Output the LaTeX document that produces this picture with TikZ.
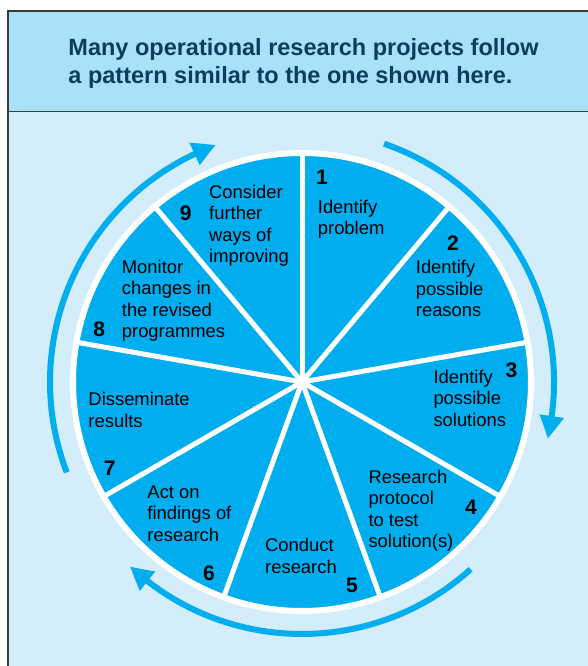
\documentclass[tikz,border=0pt]{standalone}
\usepackage{fontspec}
\setmainfont{Liberation Sans}
\usetikzlibrary{arrows.meta, bending}

\definecolor{wheelblue}{RGB}{0,174,239}
\definecolor{headblue}{RGB}{170,224,250}
\definecolor{paleblue}{RGB}{211,238,250}
\definecolor{headtext}{RGB}{10,62,92}
\definecolor{framegray}{RGB}{60,60,60}

\begin{document}
\begin{tikzpicture}
    [
    x = 1pt, y = 1pt,
    every node/.style = {inner sep=0pt, font=\fontsize{18.4}{21.5}\selectfont},
    stage/.style      = {anchor=base west, align=left},
    num/.style        = {font=\fontsize{21}{21}\selectfont\bfseries},
    spoke/.style      = {draw=white, line width=5pt},
    frameline/.style  = {draw=framegray, line width=1.5pt},
    loop/.style       = {draw=wheelblue, line width=6pt, -{Triangle[length=23pt, width=23pt, bend]}}
    ]
    \useasboundingbox[fill=white] (-302,-284) rectangle (286,382);

    % panel
    \fill[paleblue] (-294,-284) rectangle (286,270.5);
    \fill[headblue] (-294,270.5) rectangle (286,371);
    \draw[frameline] (-294,-284) -- (-294,371) -- (286,371);
    \draw[frameline] (-294,270.5) -- (286,270.5);
    \node [stage, text=headtext, font=\fontsize{23.5}{27.7}\selectfont\bfseries] (title) at (-233.7,298.3)
        {Many operational research projects follow\\a pattern similar to the one shown here.};

    % wheel
    \coordinate (hub) at (0,0);
    \fill[wheelblue] (hub) circle[radius=229];
    \draw[white, line width=6pt] (hub) circle[radius=229];
    \foreach \a in {90,50,...,-230}
        \draw[spoke] (hub) -- (\a:229);

    % cycle arrows
    \draw[loop] (71:252) arc[start angle=71, end angle=-13, radius=252];
    \draw[loop] (-48:252) arc[start angle=-48, end angle=-133, radius=252];
    \draw[loop] (201:252) arc[start angle=201, end angle=110, radius=252];

    % stages (anchored at the baseline of the last line)
    \node [num] (n1) at (20,204.5) {1};
    \node [stage] (s1) at (15.7,147.2) {Identify\\problem};
    \node [num] (n2) at (151,139) {2};
    \node [stage] (s2) at (113.7,65) {Identify\\possible\\reasons};
    \node [num] (n3) at (209.5,11.3) {3};
    \node [stage] (s3) at (131.3,-44.3) {Identify\\possible\\solutions};
    \node [num] (n4) at (169,-125.5) {4};
    \node [stage] (s4) at (66.3,-165.8) {Research\\protocol\\to test\\solution(s)};
    \node [num] (n5) at (50,-203.5) {5};
    \node [stage] (s5) at (-37,-191.2) {Conduct\\research};
    \node [num] (n6) at (-93,-191.5) {6};
    \node [stage] (s6) at (-154.7,-159.3) {Act on\\findings of\\research};
    \node [num] (n7) at (-192.3,-86.3) {7};
    \node [stage] (s7) at (-213.7,-45.5) {Disseminate\\results};
    \node [num] (n8) at (-202.8,52.8) {8};
    \node [stage] (s8) at (-180.3,44.2) {Monitor\\changes in\\the revised\\programmes};
    \node [num] (n9) at (-116.2,168.7) {9};
    \node [stage] (s9) at (-93,119.2) {Consider\\further\\ways of\\improving};
\end{tikzpicture}
\end{document}
